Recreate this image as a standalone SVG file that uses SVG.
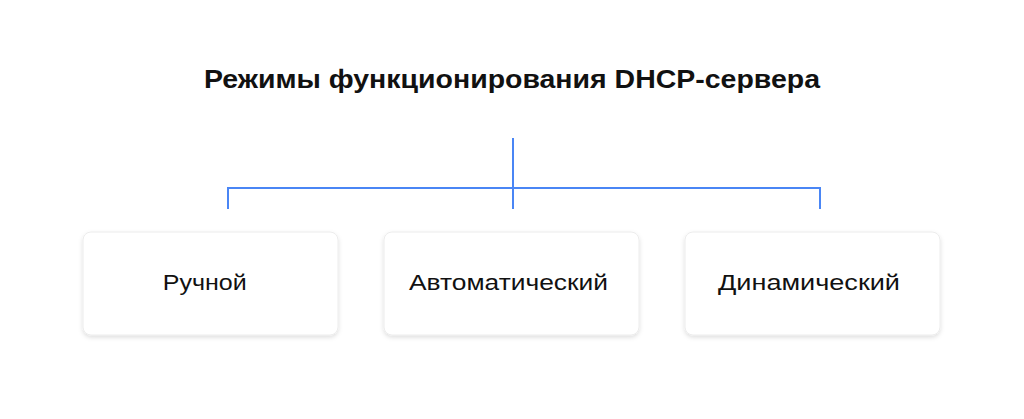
<svg xmlns="http://www.w3.org/2000/svg" width="1024" height="419" viewBox="0 0 1024 419">
<style>
.title{font-family:"Liberation Sans",Arial,sans-serif;font-weight:bold;font-size:26px;fill:#111;}
.lbl{font-family:"Liberation Sans",Arial,sans-serif;font-size:22px;fill:#111;}
.box{fill:#fff;stroke:#ececec;stroke-width:1;}
.conn{fill:none;stroke:#4a86f5;stroke-width:2;}
</style>
<defs>
<filter id="sh" x="-10%" y="-20%" width="120%" height="150%">
<feDropShadow dx="0" dy="2" stdDeviation="2" flood-color="#000" flood-opacity="0.13"/>
</filter>
</defs>
<rect width="1024" height="419" fill="#fff"/>
<text class="title" x="512" y="88" text-anchor="middle" textLength="616" lengthAdjust="spacingAndGlyphs">Режимы функционирования DHCP-сервера</text>
<g id="connectors">
<path class="conn" d="M513 138V209"/>
<path class="conn" d="M228 209V188H820V209"/>
</g>
<g id="node-manual">
<rect class="box" x="83" y="232" width="255" height="103" rx="8" filter="url(#sh)"/>
<text class="lbl" x="204.7" y="290" text-anchor="middle" textLength="84" lengthAdjust="spacingAndGlyphs">Ручной</text>
</g>
<g id="node-auto">
<rect class="box" x="384" y="232" width="255" height="103" rx="8" filter="url(#sh)"/>
<text class="lbl" x="508.5" y="290" text-anchor="middle" textLength="199" lengthAdjust="spacingAndGlyphs">Автоматический</text>
</g>
<g id="node-dynamic">
<rect class="box" x="685" y="232" width="255" height="103" rx="8" filter="url(#sh)"/>
<text class="lbl" x="809" y="290" text-anchor="middle" textLength="182" lengthAdjust="spacingAndGlyphs">Динамический</text>
</g>
</svg>
